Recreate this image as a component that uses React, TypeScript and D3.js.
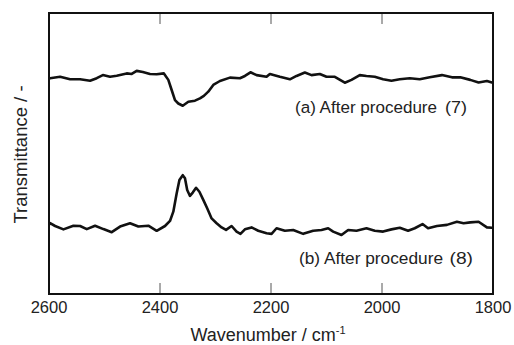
import React from "react";
import * as d3 from "d3";

// Spectrum (a): after procedure (7)
const wavenumbersA = [2600, 2598, 2580, 2562, 2544, 2526, 2514, 2503, 2490, 2478, 2460, 2451, 2442, 2431, 2418, 2406, 2393, 2385, 2379, 2373, 2367, 2359, 2349, 2337, 2328, 2321, 2313, 2304, 2292, 2274, 2256, 2247, 2237, 2226, 2208, 2202, 2184, 2166, 2154, 2139, 2127, 2112, 2100, 2085, 2067, 2055, 2040, 2028, 2013, 1998, 1983, 1968, 1950, 1932, 1914, 1892, 1874, 1859, 1841, 1826, 1811, 1802, 1800];
const transmittanceA = [76.6, 76.8, 77.3, 76.4, 76.4, 75.9, 76.8, 77.9, 77.3, 77.7, 78.5, 78.3, 79.4, 79.0, 78.3, 78.2, 78.5, 76.2, 72.6, 69.0, 67.8, 67.0, 68.4, 68.8, 69.6, 70.5, 72.0, 74.4, 75.8, 77.0, 76.8, 77.6, 78.9, 77.9, 77.3, 78.3, 77.3, 76.4, 77.6, 78.8, 77.9, 78.3, 77.3, 77.3, 75.2, 76.2, 77.9, 77.6, 77.3, 76.4, 75.9, 76.4, 76.8, 76.4, 77.1, 77.9, 77.1, 77.1, 76.2, 75.3, 75.8, 75.3, 75.2];

// Spectrum (b): after procedure (8)
const wavenumbersB = [2600, 2598, 2589, 2574, 2556, 2544, 2532, 2517, 2502, 2487, 2472, 2454, 2439, 2421, 2406, 2391, 2382, 2376, 2370, 2365, 2359, 2355, 2351, 2346, 2341, 2335, 2329, 2322, 2315, 2307, 2298, 2289, 2281, 2271, 2262, 2255, 2247, 2235, 2223, 2208, 2199, 2190, 2175, 2160, 2142, 2124, 2109, 2097, 2088, 2073, 2061, 2046, 2028, 2013, 1998, 1983, 1968, 1953, 1941, 1927, 1917, 1901, 1883, 1865, 1853, 1841, 1826, 1811, 1802, 1800];
const transmittanceB = [24.6, 25.2, 24.2, 23.0, 24.3, 24.2, 23.1, 24.3, 23.1, 22.0, 24.0, 25.2, 24.0, 24.3, 22.5, 24.2, 26.0, 29.3, 35.8, 40.6, 42.3, 41.2, 37.0, 34.9, 36.1, 37.8, 36.4, 33.5, 30.5, 26.9, 25.2, 23.7, 22.8, 24.2, 22.2, 21.4, 23.0, 23.7, 22.5, 21.6, 21.4, 23.4, 22.5, 22.8, 21.4, 22.5, 22.8, 23.4, 22.2, 21.0, 22.8, 22.5, 23.4, 22.5, 22.2, 23.0, 23.6, 22.5, 23.4, 24.9, 23.4, 24.2, 24.6, 25.7, 25.2, 25.5, 25.7, 23.7, 23.6, 23.6];

const xTicks = [2600, 2400, 2200, 2000, 1800];
const seriesLabels = ["(a) After procedure", "(b) After procedure"];
const seriesTags = ["(7)", "(8)"];

const W = 514;
const H = 345;
const L = 49;
const R = 493;
const T = 13;
const B = 294;
const FONT = "'Liberation Sans', Arial, sans-serif";

export default function App() {
  const x = d3.scaleLinear().domain([2600, 1800]).range([L, R]);
  const y = d3.scaleLinear().domain([0, 100]).range([B, T]);
  const line = d3
    .line<[number, number]>()
    .x((d) => x(d[0]))
    .y((d) => y(d[1]))
    .curve(d3.curveLinear);

  const dataA: [number, number][] = wavenumbersA.map((w, i) => [w, transmittanceA[i]]);
  const dataB: [number, number][] = wavenumbersB.map((w, i) => [w, transmittanceB[i]]);

  return (
    <svg
      width={W}
      height={H}
      style={{ position: "absolute", left: 0, top: 0, background: "#fff" }}
    >
      <rect x={0} y={0} width={W} height={H} fill="#fff" />
      {xTicks.slice(1, -1).map((t) => (
        <g key={t}>
          <line x1={x(t)} x2={x(t)} y1={T} y2={T + 11} stroke="#555" strokeWidth={1} />
          <line x1={x(t)} x2={x(t)} y1={B} y2={B - 11} stroke="#555" strokeWidth={1} />
        </g>
      ))}
      <path d={line(dataA) || ""} fill="none" stroke="#111" strokeWidth={2.6} strokeLinejoin="round" />
      <path d={line(dataB) || ""} fill="none" stroke="#111" strokeWidth={2.6} strokeLinejoin="round" />
      <rect x={L} y={T} width={R - L} height={B - T} fill="none" stroke="#111" strokeWidth={2} />
      {xTicks.map((t) => (
        <text key={t} x={x(t)} y={313} textAnchor="middle" fontFamily={FONT} fontSize={16.5} fill="#222">
          {t}
        </text>
      ))}
      <text x={295} y={113} fontFamily={FONT} fontSize={16.8} fill="#222" textLength={142} lengthAdjust="spacingAndGlyphs">
        {seriesLabels[0]}
      </text>
      <text x={445} y={113} fontFamily={FONT} fontSize={16.8} fill="#222" textLength={22} lengthAdjust="spacingAndGlyphs">
        {seriesTags[0]}
      </text>
      <text x={299} y={264} fontFamily={FONT} fontSize={16.8} fill="#222" textLength={144} lengthAdjust="spacingAndGlyphs">
        {seriesLabels[1]}
      </text>
      <text x={449.5} y={264} fontFamily={FONT} fontSize={16.8} fill="#222" textLength={23.5} lengthAdjust="spacingAndGlyphs">
        {seriesTags[1]}
      </text>
      <text x={(L + R) / 2 - 3} y={341} textAnchor="middle" fontFamily={FONT} fontSize={18} fill="#222">
        Wavenumber / cm<tspan fontSize={11} dy={-7}>-1</tspan>
      </text>
      <text
        transform={`translate(26.5, ${(T + B) / 2 + 1}) rotate(-90)`}
        textAnchor="middle"
        fontFamily={FONT}
        fontSize={18.5}
        fill="#222"
      >
        Transmittance / -
      </text>
    </svg>
  );
}
